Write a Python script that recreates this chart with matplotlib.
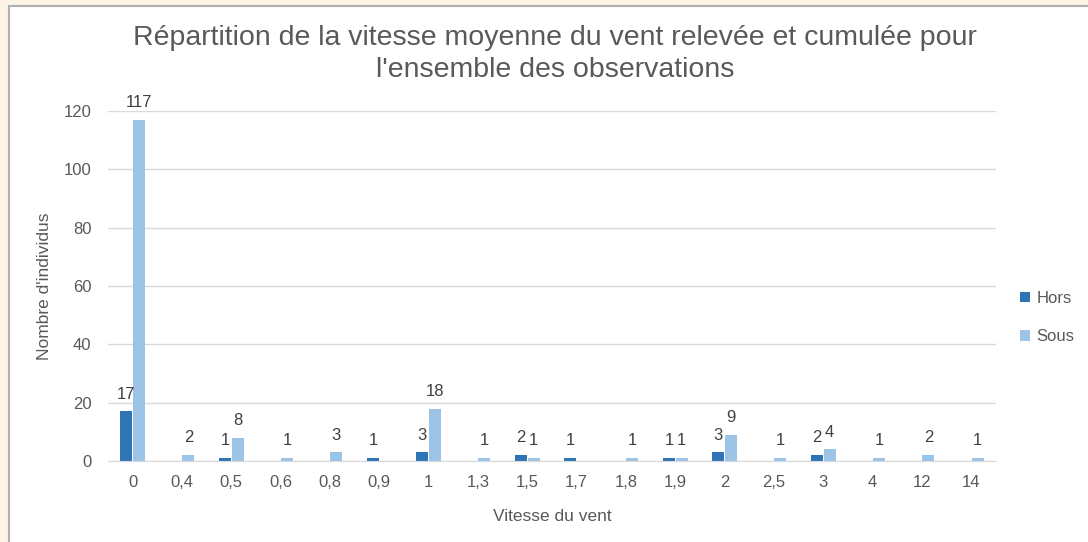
import numpy as np
import matplotlib
matplotlib.use('Agg')
import matplotlib.pyplot as plt
from matplotlib.patches import Rectangle

# categories of wind speed (as shown on the axis)
categories = ["0", "0,4", "0,5", "0,6", "0,8", "0,9", "1", "1,3", "1,5", "1,7",
              "1,8", "1,9", "2", "2,5", "3", "4", "12", "14"]
hors = [17, 0, 1, 0, 0, 1, 3, 0, 2, 1, 0, 1, 3, 0, 2, 0, 0, 0]
sous = [117, 2, 8, 1, 3, 0, 18, 1, 1, 0, 1, 1, 9, 1, 4, 1, 2, 1]
series_names = ["Hors", "Sous"]
y_ticks = [0, 20, 40, 60, 80, 100, 120]

color_hors = "#2E75B6"
color_sous = "#9DC3E6"
text_grey = "#595959"

plt.rcParams['font.family'] = ['Liberation Sans', 'DejaVu Sans']

fig = plt.figure(figsize=(10.88, 5.42), dpi=100)

# beige frame around the chart like the screenshot
fig.patches.append(Rectangle((0, 0), 1, 1, transform=fig.transFigure,
                             facecolor="#FDF3E7", edgecolor="none", zorder=-3))
fig.patches.append(Rectangle((9 / 1088, -0.01), 1.1, 1 - 6 / 542 + 0.01,
                             transform=fig.transFigure, facecolor="white",
                             edgecolor="#B0B0B0", linewidth=1.5, zorder=-2))

ax = fig.add_axes([108 / 1088, 1 - 461 / 542, 888 / 1088, 350 / 542])
ax.patch.set_alpha(0)

x = np.arange(len(categories))
w = 0.24
b1 = ax.bar(x - w / 2 - 0.01, hors, width=w, color=color_hors, label=series_names[0], zorder=3)
b2 = ax.bar(x + w / 2 + 0.01, sous, width=w, color=color_sous, label=series_names[1], zorder=3)

for bars, vals in ((b1, hors), (b2, sous)):
    labels = [str(v) if v > 0 else "" for v in vals]
    ax.bar_label(bars, labels=labels, padding=7, fontsize=12, color="#404040")

ax.set_xlim(-0.5, len(categories) - 0.5)
ax.set_ylim(0, 120)
ax.set_yticks(y_ticks)
ax.set_xticks(x)
ax.set_xticklabels(categories)
ax.tick_params(axis='both', length=0, labelsize=12, labelcolor=text_grey)
ax.tick_params(axis='x', pad=10)
ax.tick_params(axis='y', pad=12)
ax.grid(axis='y', color="#D9D9D9", linewidth=1, zorder=0)
for s in ("top", "right", "left"):
    ax.spines[s].set_visible(False)
ax.spines["bottom"].set_color("#D9D9D9")
ax.spines["bottom"].set_zorder(4)

ax.set_xlabel("Vitesse du vent", fontsize=12.5, color=text_grey, labelpad=14)
ax.set_ylabel("Nombre d'individus", fontsize=12.5, color=text_grey, labelpad=8)

fig.text(555 / 1088, 1 - 54 / 542,
         "Répartition de la vitesse moyenne du vent relevée et cumulée pour\nl'ensemble des observations",
         ha="center", va="center", fontsize=20.5, color=text_grey, linespacing=1.3)

ax.legend(loc="center left", bbox_to_anchor=(1.01, 0.41), frameon=False,
          fontsize=12, labelcolor=text_grey, handlelength=0.6, handleheight=0.6,
          handletextpad=0.4, labelspacing=1.4)

plt.savefig("out.png", dpi=100)
